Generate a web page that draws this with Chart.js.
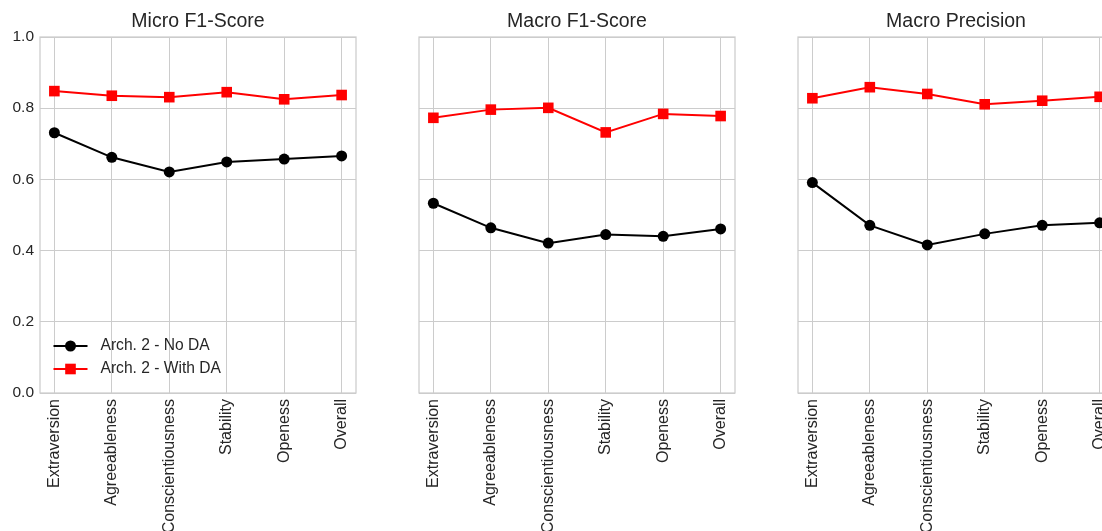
<!DOCTYPE html>
<html>
<head>
<meta charset="utf-8">
<script src="https://cdn.jsdelivr.net/npm/chart.js@4.4.1/dist/chart.umd.min.js"></script>
<style>
  html, body { margin: 0; padding: 0; background: #fff; overflow: hidden; }
  #wrap { position: relative; width: 1102px; height: 531px; overflow: hidden; }
  .panel { position: absolute; top: 0; width: 370px; height: 531px; }
</style>
</head>
<body>
<div id="wrap">
  <div class="panel" style="left:0"><canvas id="c1" width="370" height="531"></canvas></div>
  <div class="panel" style="left:379px"><canvas id="c2" width="370" height="531"></canvas></div>
  <div class="panel" style="left:758px"><canvas id="c3" width="370" height="531"></canvas></div>
</div>
<script>
const traits = ['Extraversion', 'Agreeableness', 'Conscientiousness', 'Stability', 'Openess', 'Overall'];
const yTicks = [0, 0.2, 0.4, 0.6, 0.8, 1.0];
const seriesNames = ['Arch. 2 - No DA', 'Arch. 2 - With DA'];
const panelTitles = ['Micro F1-Score', 'Macro F1-Score', 'Macro Precision'];

const microF1NoDA = [0.731, 0.662, 0.621, 0.649, 0.657, 0.666];
const microF1WithDA = [0.848, 0.835, 0.831, 0.845, 0.825, 0.837];
const macroF1NoDA = [0.533, 0.464, 0.421, 0.445, 0.440, 0.461];
const macroF1WithDA = [0.773, 0.796, 0.801, 0.732, 0.784, 0.778];
const macroPrecNoDA = [0.591, 0.471, 0.416, 0.447, 0.471, 0.478];
const macroPrecWithDA = [0.828, 0.859, 0.840, 0.811, 0.821, 0.832];

const GRID = '#cccccc';
const TEXT = '#262626';
const FONT = "'Liberation Sans', Arial, sans-serif";
Chart.defaults.font.family = FONT;
Chart.defaults.color = TEXT;

// light grey box round the plot area, like the seaborn spines
const framePlugin = {
  id: 'frame',
  beforeDatasetsDraw(chart) {
    const { ctx, chartArea: a } = chart;
    ctx.save();
    ctx.strokeStyle = GRID;
    ctx.lineWidth = 1.25;
    ctx.strokeRect(a.left, a.top, a.right - a.left, a.bottom - a.top);
    ctx.restore();
  }
};

// legend drawn inside the axes, lower left
const innerLegend = {
  id: 'innerLegend',
  afterDatasetsDraw(chart) {
    const { ctx, chartArea: a } = chart;
    chart.data.datasets.forEach((ds, i) => {
      const y = a.bottom - 47 + i * 23;
      const x0 = a.left + 13.5, x1 = a.left + 47.5, xm = (x0 + x1) / 2;
      ctx.save();
      ctx.strokeStyle = ds.borderColor;
      ctx.lineWidth = ds.borderWidth;
      ctx.beginPath(); ctx.moveTo(x0, y); ctx.lineTo(x1, y); ctx.stroke();
      ctx.fillStyle = ds.backgroundColor;
      if (ds.pointStyle === 'rect') {
        const s = ds.pointRadius * Math.SQRT1_2;
        ctx.fillRect(xm - s, y - s, 2 * s, 2 * s);
      } else {
        ctx.beginPath(); ctx.arc(xm, y, ds.pointRadius, 0, Math.PI * 2); ctx.fill();
      }
      ctx.fillStyle = TEXT;
      ctx.font = '15.6px ' + FONT;
      ctx.textBaseline = 'middle';
      ctx.textAlign = 'left';
      ctx.fillText(ds.label, a.left + 60.5, y);
      ctx.restore();
    });
  }
};

function makePanel(id, title, noDA, withDA, showY, withLegend) {
  const plugins = [framePlugin];
  if (withLegend) plugins.push(innerLegend);
  return new Chart(document.getElementById(id), {
    type: 'line',
    data: {
      datasets: [{
        label: seriesNames[0],
        data: noDA.map((v, i) => ({ x: i, y: v })),
        borderColor: '#000000',
        backgroundColor: '#000000',
        borderWidth: 2,
        pointStyle: 'circle',
        pointRadius: 5.5,
        pointBorderWidth: 0,
        tension: 0
      }, {
        label: seriesNames[1],
        data: withDA.map((v, i) => ({ x: i, y: v })),
        borderColor: '#ff0000',
        backgroundColor: '#ff0000',
        borderWidth: 2,
        pointStyle: 'rect',
        pointRadius: 7.5,
        pointBorderWidth: 0,
        tension: 0
      }]
    },
    options: {
      responsive: false,
      animation: false,
      layout: { padding: { left: 0, right: 14, top: 0, bottom: 0 } },
      plugins: {
        legend: { display: false },
        tooltip: { enabled: false },
        title: {
          display: true, text: title, fullSize: false, color: TEXT,
          font: { size: 19.5, weight: 'normal' },
          padding: { top: 10, bottom: 3.6 }
        }
      },
      scales: {
        x: {
          type: 'linear', min: -0.25, max: traits.length - 0.75,
          afterBuildTicks: s => { s.ticks = traits.map((_, i) => ({ value: i })); },
          afterFit: s => { s.height = 138; },
          grid: { color: GRID, lineWidth: 1, drawTicks: false },
          border: { display: false },
          ticks: {
            autoSkip: false, minRotation: 90, maxRotation: 90, padding: 6,
            color: TEXT, font: { size: 16 },
            callback: v => traits[v]
          }
        },
        y: {
          min: 0, max: 1,
          afterBuildTicks: s => { s.ticks = yTicks.map(v => ({ value: v })); },
          afterFit: s => { s.width = 40; },
          grid: { color: GRID, lineWidth: 1, drawTicks: false },
          border: { display: false },
          ticks: {
            display: showY, padding: 6, color: TEXT, font: { size: 15.5 },
            callback: v => v.toFixed(1)
          }
        }
      }
    },
    plugins: plugins
  });
}

makePanel('c1', panelTitles[0], microF1NoDA, microF1WithDA, true, true);
makePanel('c2', panelTitles[1], macroF1NoDA, macroF1WithDA, false, false);
makePanel('c3', panelTitles[2], macroPrecNoDA, macroPrecWithDA, false, false);
</script>
</body>
</html>
